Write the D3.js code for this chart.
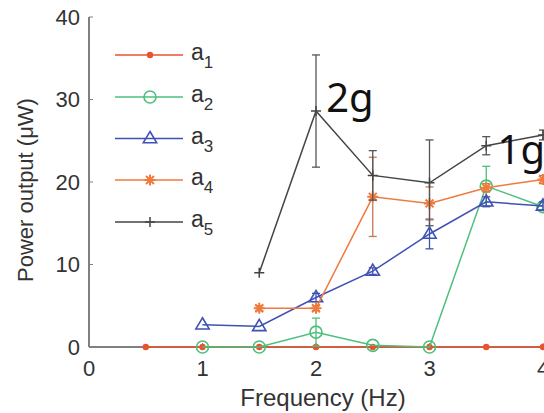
<!DOCTYPE html>
<html><head><meta charset="utf-8">
<script src="https://cdn.jsdelivr.net/npm/d3@7"></script>
<style>body{margin:0;background:#fff}svg{display:block}</style>
</head><body>
<svg id="c" width="544" height="413"></svg>
<script>
// ---- data ----
const xTicks = [0, 1, 2, 3, 4];
const yTicks = [0, 10, 20, 30, 40];
const a1x = [0.5, 1, 1.5, 2, 2.5, 3, 3.5, 4];
const a1y = [0, 0, 0, 0, 0, 0, 0, 0];
const a2x = [1, 1.5, 2, 2.5, 3, 3.5, 4];
const a2y = [0, 0, 1.8, 0.2, 0, 19.5, 17.0];
const a2e = [0, 0, 1.7, 0, 0, 2.4, 0.5];
const a3x = [1, 1.5, 2, 2.5, 3, 3.5, 4];
const a3y = [2.7, 2.5, 6.0, 9.2, 13.7, 17.6, 17.1];
const a3e = [0, 0, 0.5, 0.4, 1.8, 0.6, 0.5];
const a4x = [1.5, 2, 2.5, 3, 3.5, 4];
const a4y = [4.7, 4.7, 18.2, 17.4, 19.3, 20.3];
const a4e = [0.3, 0.3, 4.8, 2.0, 0.5, 0.5];
const a5x = [1.5, 2, 2.5, 3, 3.5, 4];
const a5y = [9.0, 28.6, 20.8, 19.9, 24.4, 25.7];
const a5e = [0, 6.8, 3.0, 5.2, 1.1, 0.6];
const annotations = [{t: "2g", x: 2.09, y: 28.6}, {t: "1g", x: 3.6, y: 22.3}];

const series = [
  {name: "1", xs: a1x, ys: a1y, es: null, color: "#e8532e", errColor: "#e8532e", marker: "dot"},
  {name: "2", xs: a2x, ys: a2y, es: a2e, color: "#4fbf7c", errColor: "#4fbf7c", marker: "circle"},
  {name: "3", xs: a3x, ys: a3y, es: a3e, color: "#3f51b5", errColor: "#3f51b5", marker: "triangle"},
  {name: "4", xs: a4x, ys: a4y, es: a4e, color: "#f07a3c", errColor: "#c9774f", marker: "asterisk"},
  {name: "5", xs: a5x, ys: a5y, es: a5e, color: "#444444", errColor: "#555555", marker: "plus"}
];

// ---- scales ----
const x = d3.scaleLinear().domain([0, 4]).range([89, 543]);
const y = d3.scaleLinear().domain([0, 40]).range([347, 17]);

const svg = d3.select("#c");
const FONT = "'Liberation Sans', Arial, Helvetica, sans-serif";
const TXT = "#333333";

function marker(g, type, cx, cy, color) {
  if (type === "dot") {
    g.append("circle").attr("cx", cx).attr("cy", cy).attr("r", 3.2).attr("fill", color);
  } else if (type === "circle") {
    g.append("circle").attr("cx", cx).attr("cy", cy).attr("r", 6).attr("fill", "none").attr("stroke", color).attr("stroke-width", 1.6);
  } else if (type === "triangle") {
    const s = 7;
    g.append("path").attr("d", `M${cx},${cy - s}L${cx + s * 0.95},${cy + s * 0.6}L${cx - s * 0.95},${cy + s * 0.6}Z`)
      .attr("fill", "none").attr("stroke", color).attr("stroke-width", 1.6);
  } else if (type === "asterisk") {
    const s = 5.5;
    let d = `M${cx - s},${cy}L${cx + s},${cy}M${cx},${cy - s}L${cx},${cy + s}`;
    const k = s * 0.72;
    d += `M${cx - k},${cy - k}L${cx + k},${cy + k}M${cx - k},${cy + k}L${cx + k},${cy - k}`;
    g.append("path").attr("d", d).attr("stroke", color).attr("stroke-width", 2);
  } else if (type === "plus") {
    const s = 5;
    g.append("path").attr("d", `M${cx - s},${cy}L${cx + s},${cy}M${cx},${cy - s}L${cx},${cy + s}`)
      .attr("stroke", color).attr("stroke-width", 1.5);
  }
}

// ---- axes ----
const axG = svg.append("g");
axG.append("line").attr("x1", x(0)).attr("x2", 544).attr("y1", y(0)).attr("y2", y(0)).attr("stroke", "#808080").attr("stroke-width", 2);
axG.append("line").attr("x1", x(0)).attr("x2", x(0)).attr("y1", y(0)).attr("y2", y(40)).attr("stroke", "#808080").attr("stroke-width", 2);
yTicks.forEach(t => {
  axG.append("line").attr("x1", x(0)).attr("x2", x(0) + 4).attr("y1", y(t)).attr("y2", y(t)).attr("stroke", "#808080").attr("stroke-width", 1);
  axG.append("text").attr("x", 80).attr("y", y(t)).attr("dy", "0.36em").attr("text-anchor", "end")
    .attr("font-family", FONT).attr("font-size", 22).attr("fill", TXT).text(t);
});
xTicks.forEach(t => {
  axG.append("line").attr("x1", x(t)).attr("x2", x(t)).attr("y1", y(0)).attr("y2", y(0) - 4).attr("stroke", "#808080").attr("stroke-width", 1);
  axG.append("text").attr("x", x(t)).attr("y", 376).attr("text-anchor", "middle")
    .attr("font-family", FONT).attr("font-size", 22).attr("fill", TXT).text(t);
});
axG.append("text").attr("x", 323).attr("y", 406).attr("text-anchor", "middle")
  .attr("font-family", FONT).attr("font-size", 24).attr("fill", TXT).text("Frequency (Hz)");
axG.append("text").attr("transform", "translate(33,190) rotate(-90)").attr("text-anchor", "middle")
  .attr("font-family", FONT).attr("font-size", 22).attr("fill", TXT).text("Power output (μW)");

// ---- series ----
const line = d3.line().x(d => x(d[0])).y(d => y(d[1]));
series.forEach(s => {
  const g = svg.append("g");
  const pts = s.xs.map((v, i) => [v, s.ys[i], s.es ? s.es[i] : 0]);
  g.append("path").attr("d", line(pts)).attr("fill", "none").attr("stroke", s.color).attr("stroke-width", 1.5);
  if (s.es) {
    pts.forEach(p => {
      if (p[2] <= 0) return;
      const lo = Math.max(0, p[1] - p[2]), hi = p[1] + p[2];
      g.append("line").attr("x1", x(p[0])).attr("x2", x(p[0])).attr("y1", y(lo)).attr("y2", y(hi)).attr("stroke", s.errColor).attr("stroke-width", 1.3);
      [lo, hi].forEach(v => g.append("line").attr("x1", x(p[0]) - 4).attr("x2", x(p[0]) + 4).attr("y1", y(v)).attr("y2", y(v)).attr("stroke", s.errColor).attr("stroke-width", 1.3));
    });
  }
  pts.forEach(p => marker(g, s.marker, x(p[0]), y(p[1]), s.color));
});

// ---- legend ----
const legY = [55, 97, 138.5, 180, 222];
series.forEach((s, i) => {
  const g = svg.append("g");
  g.append("line").attr("x1", 115).attr("x2", 183).attr("y1", legY[i]).attr("y2", legY[i]).attr("stroke", s.color).attr("stroke-width", 1.5);
  marker(g, s.marker, 150, legY[i], s.color);
  const t = g.append("text").attr("x", 191).attr("y", legY[i] + 5).attr("font-family", FONT).attr("font-size", 23).attr("fill", TXT);
  t.append("tspan").text("a");
  t.append("tspan").attr("dy", 8).attr("font-size", 17).text(s.name);
});

// ---- annotations ----
annotations.forEach(a => {
  svg.append("text").attr("x", x(a.x)).attr("y", y(a.y) + 1).attr("font-family", "'Noto Sans', 'Open Sans', sans-serif")
    .attr("font-size", 40).attr("fill", "#111").text(a.t);
});
</script>
</body></html>
